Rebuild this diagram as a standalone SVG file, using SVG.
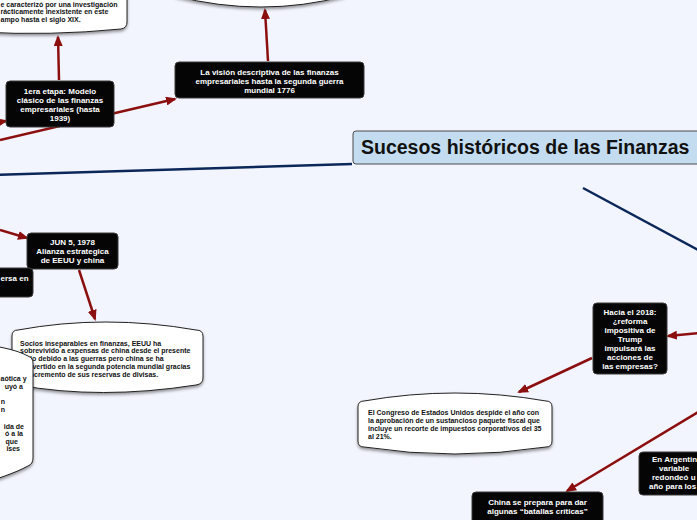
<svg xmlns="http://www.w3.org/2000/svg" width="697" height="520" viewBox="0 0 697 520">
<defs>
<marker id="ah" viewBox="0 0 11 9" refX="9" refY="4.5" markerWidth="11" markerHeight="9" markerUnits="userSpaceOnUse" orient="auto">
<path d="M0,0 L11,4.5 L0,9 z" fill="#8c0f0f"/>
</marker>
<filter id="sh" x="-10%" y="-10%" width="120%" height="130%">
<feDropShadow dx="0" dy="2" stdDeviation="1.5" flood-color="#000" flood-opacity="0.4"/>
</filter>
</defs>
<style>
.bg{fill:#f3f5fe}
.red{stroke:#8c0f0f;stroke-width:2.5;fill:none;marker-end:url(#ah)}
.blue{stroke:#0b2759;stroke-width:2.5;fill:none}
.blk{fill:#050505;stroke:#3a3a3a;stroke-width:1}
.call{fill:#ffffff;stroke:#222;stroke-width:1;filter:url(#sh)}
.wt{font-family:"Liberation Sans",Arial,sans-serif;font-weight:bold;font-size:8px;fill:#ffffff;text-anchor:middle}
.bt{font-family:"Liberation Sans",Arial,sans-serif;font-weight:bold;font-size:7px;fill:#111111}
.main{font-family:"Liberation Sans",Arial,sans-serif;font-weight:bold;font-size:19.5px;fill:#111111}
</style>
<rect class="bg" x="0" y="0" width="697" height="520"/>

<g id="connectors">
<line class="blue" x1="352" y1="164" x2="-5" y2="175"/>
<line class="blue" x1="583" y1="188" x2="702" y2="252"/>
<line class="red" x1="0" y1="140" x2="175" y2="99"/>
<line class="red" x1="-40" y1="130" x2="6" y2="121"/>
<line class="red" x1="59" y1="80" x2="58" y2="37"/>
<line class="red" x1="268" y1="61" x2="265" y2="10"/>
<line class="red" x1="0" y1="230" x2="27" y2="238"/>
<line class="red" x1="79" y1="270" x2="95" y2="319"/>
<line class="red" x1="700" y1="333" x2="668" y2="336"/>
<line class="red" x1="592" y1="358" x2="519" y2="392"/>
<line class="red" x1="700" y1="411" x2="567" y2="491"/>
</g>

<g id="n-siglo">
<path class="call" d="M -20 -20 L 127 -20 L 127 22 Q 127 28 121 29 Q 50 36 -20 32 Z"/>
<text class="bt" x="0.5" y="6.5">e caracterizó por una investigación</text>
<text class="bt" x="0.5" y="14">rácticamente inexistente en este</text>
<text class="bt" x="0.5" y="21.5">ampo hasta el siglo XIX.</text>
</g>

<g id="n-top">
<path class="call" d="M 175 -20 L 175 -4 Q 262 18 345 -4 L 345 -20 Z"/>
</g>

<g id="n-1era">
<rect class="blk" x="6" y="81" width="108" height="46" rx="4"/>
<text class="wt" x="60" y="94">1era etapa: Modelo</text>
<text class="wt" x="60" y="103">clásico de las finanzas</text>
<text class="wt" x="60" y="112">empresariales (hasta</text>
<text class="wt" x="60" y="121">1939)</text>
</g>

<g id="n-vision">
<rect class="blk" x="175" y="62" width="189" height="36" rx="4"/>
<text class="wt" x="269.5" y="75">La visión descriptiva de las finanzas</text>
<text class="wt" x="269.5" y="84">empresariales hasta la segunda guerra</text>
<text class="wt" x="269.5" y="93">mundial 1776</text>
</g>

<g id="n-main">
<rect x="353" y="131" width="360" height="33" rx="3" fill="#c3dcf0" stroke="#4a4a4a" stroke-width="1"/>
<text class="main" x="361" y="154">Sucesos históricos de las Finanzas</text>
</g>

<g id="n-jun">
<rect class="blk" x="27" y="233" width="91" height="36" rx="4"/>
<text class="wt" x="72.5" y="245">JUN 5, 1978</text>
<text class="wt" x="72.5" y="254">Alianza estrategica</text>
<text class="wt" x="72.5" y="263">de EEUU y china</text>
</g>

<g id="n-ersa">
<rect class="blk" x="-10" y="268" width="43" height="29" rx="4"/>
<text class="wt" x="0.5" y="281" style="text-anchor:start">ersa en</text>
</g>

<g id="n-socios">
<path class="call" d="M 12 336 Q 12 330 18 330 Q 105 314 196 330 Q 203 330 203 336 L 203 378 Q 203 384 196 385 Q 100 400 18 385 Q 12 384 12 378 Z"/>
<text class="bt" x="20" y="345.5">Socios inseparables en finanzas, EEUU ha</text>
<text class="bt" x="20" y="353.3">sobrevivido a expensas de china desde el presente</text>
<text class="bt" x="20" y="361.1">siglo debido a las guerras pero china se ha</text>
<text class="bt" x="20" y="368.9">convertido en la segunda potencia mundial gracias</text>
<text class="bt" x="20" y="376.7">al incremento de sus reservas de divisas.</text>
</g>

<g id="n-left">
<path class="call" d="M -40 342 Q 10 346 28 356 Q 33 358 33 363 L 33 458 Q 33 464 28 466 Q 10 476 -40 490 Z"/>
<g class="bt" style="text-anchor:end">
<text x="0.5" y="381" style="text-anchor:start">aótica y</text>
<text x="23" y="388.5">uyó a</text>
<text x="5" y="404">n</text>
<text x="5" y="411.5">n</text>
<text x="24" y="428.5">ida de</text>
<text x="23" y="436">ó a la</text>
<text x="18" y="443.5">que</text>
<text x="20" y="451">ises</text>
</g>
</g>

<g id="n-hacia">
<rect class="blk" x="593" y="303" width="74" height="71" rx="4"/>
<text class="wt" x="630" y="315">Hacia el 2018:</text>
<text class="wt" x="630" y="324">¿reforma</text>
<text class="wt" x="630" y="333">impositiva de</text>
<text class="wt" x="630" y="342">Trump</text>
<text class="wt" x="630" y="351">impulsará las</text>
<text class="wt" x="630" y="360">acciones de</text>
<text class="wt" x="630" y="369">las empresas?</text>
</g>

<g id="n-congreso">
<path class="call" d="M 358 407 Q 358 401 364 401 Q 455 385 546 401 Q 552 401 552 407 L 552 441 Q 552 447 546 447 Q 455 461 364 447 Q 358 447 358 441 Z"/>
<text class="bt" x="368" y="414.5">El Congreso de Estados Unidos despide el año con</text>
<text class="bt" x="368" y="422.5">la aprobación de un sustancioso paquete fiscal que</text>
<text class="bt" x="368" y="430.5">incluye un recorte de impuestos corporativos del 35</text>
<text class="bt" x="368" y="438.5">al 21%.</text>
</g>

<g id="n-argentina">
<rect class="blk" x="639" y="452" width="70" height="43" rx="4"/>
<g class="wt" style="text-anchor:start">
<text x="652" y="462">En Argentin</text>
<text x="659" y="471">variable</text>
<text x="652" y="480">redondeó u</text>
<text x="649" y="489">año para los</text>
</g>
</g>

<g id="n-china">
<rect class="blk" x="472" y="492" width="131" height="40" rx="4"/>
<text class="wt" x="537.5" y="505">China se prepara para dar</text>
<text class="wt" x="537.5" y="514">algunas “batallas críticas”</text>
</g>
</svg>
